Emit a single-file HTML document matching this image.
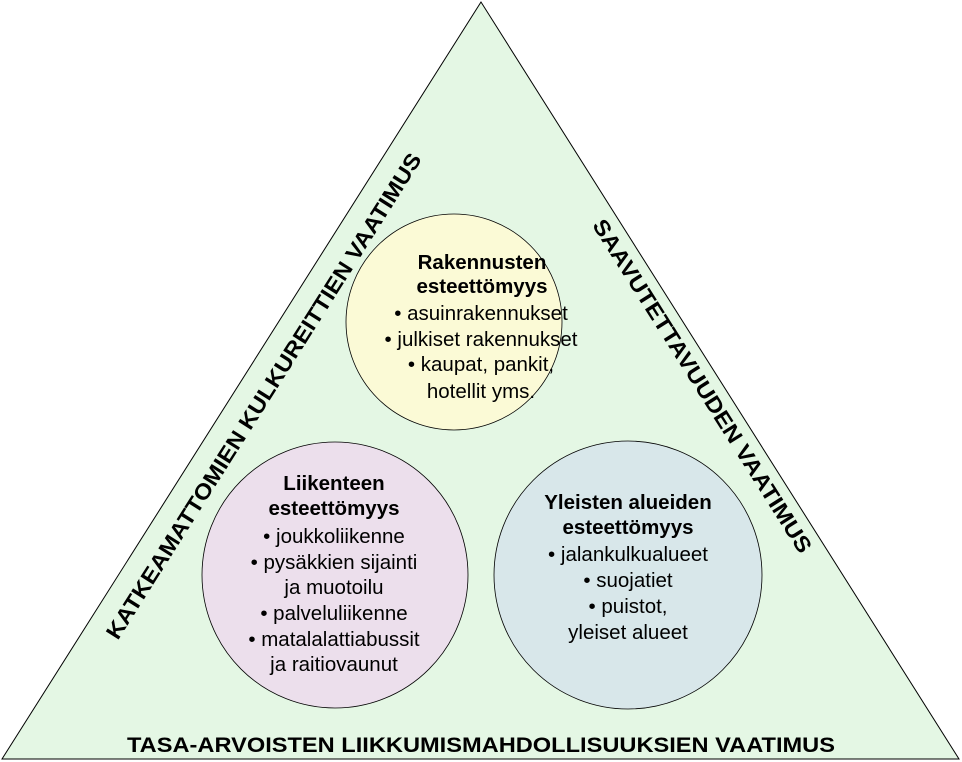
<!DOCTYPE html>
<html><head><meta charset="utf-8"><style>
html,body{margin:0;padding:0;background:#fff;}
svg{display:block;}
text{font-family:"Liberation Sans",Arial,sans-serif;fill:#000;}
.b{font-weight:bold;}
</style></head><body>
<svg width="962" height="762" viewBox="0 0 962 762">
<polygon points="481,2 2,759 959,759" fill="#e4f7e4" stroke="#000" stroke-width="1"/>
<circle cx="454" cy="322" r="108" fill="#fbfad6" stroke="#000" stroke-width="0.8"/>
<circle cx="335" cy="575" r="133" fill="#ecdfec" stroke="#000" stroke-width="0.8"/>
<circle cx="628" cy="575" r="134" fill="#d8e7ea" stroke="#000" stroke-width="0.8"/>

<g font-size="20.5" text-anchor="middle">
<text x="482" y="269" class="b">Rakennusten</text>
<text x="482" y="293" class="b">esteettömyys</text>
<text x="481" y="320">• asuinrakennukset</text>
<text x="481" y="346">• julkiset rakennukset</text>
<text x="481" y="371">• kaupat, pankit,</text>
<text x="481" y="398">hotellit yms.</text>

<text x="334" y="490" class="b">Liikenteen</text>
<text x="334" y="515" class="b">esteettömyys</text>
<text x="334" y="543">• joukkoliikenne</text>
<text x="334" y="569">• pysäkkien sijainti</text>
<text x="334" y="594">ja muotoilu</text>
<text x="334" y="620">• palveluliikenne</text>
<text x="334" y="646">• matalalattiabussit</text>
<text x="334" y="671">ja raitiovaunut</text>

<text x="628" y="509" class="b">Yleisten alueiden</text>
<text x="628" y="534" class="b">esteettömyys</text>
<text x="628" y="561">• jalankulkualueet</text>
<text x="628" y="587">• suojatiet</text>
<text x="628" y="613">• puistot,</text>
<text x="628" y="639">yleiset alueet</text>
</g>

<text x="481" y="752" font-size="21" class="b" text-anchor="middle" textLength="708" lengthAdjust="spacingAndGlyphs">TASA-ARVOISTEN LIIKKUMISMAHDOLLISUUKSIEN VAATIMUS</text>
<text transform="translate(270,400) rotate(-57.7)" font-size="22" class="b" text-anchor="middle" textLength="570" lengthAdjust="spacingAndGlyphs">KATKEAMATTOMIEN KULKUREITTIEN VAATIMUS</text>
<text transform="translate(696,390) rotate(57.7)" font-size="22" class="b" text-anchor="middle" textLength="390" lengthAdjust="spacingAndGlyphs">SAAVUTETTAVUUDEN VAATIMUS</text>
</svg>
</body></html>
